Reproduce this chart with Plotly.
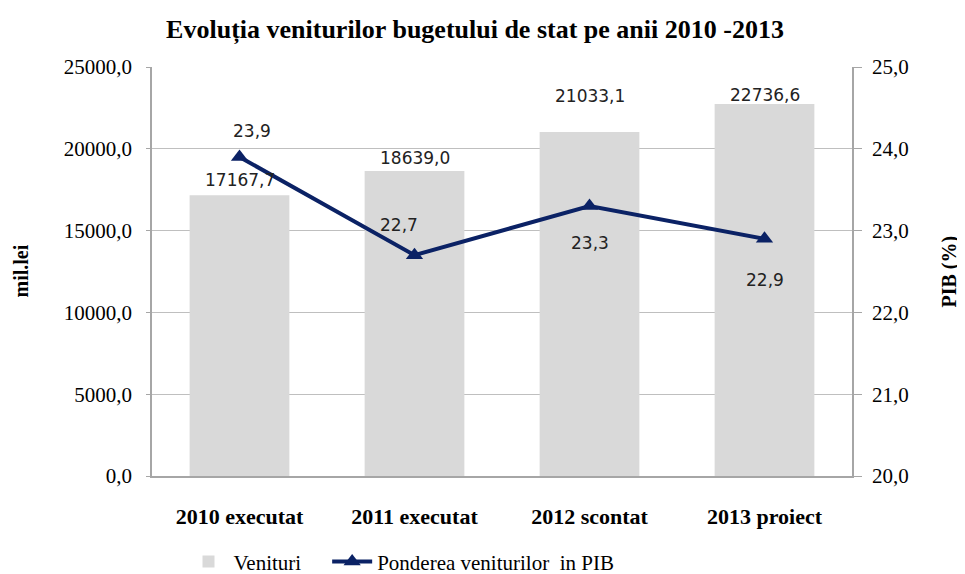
import plotly.graph_objects as go

categories = ["2010 executat", "2011 executat", "2012 scontat", "2013 proiect"]
venituri = [17167.7, 18639.0, 21033.1, 22736.6]
pondere = [23.9, 22.7, 23.3, 22.9]
left_ticks = [0, 5000, 10000, 15000, 20000, 25000]
right_ticks = [20, 21, 22, 23, 24, 25]

# label offsets (px) for styling
bar_label_shift = [15, 13, 36, 9]
line_label_shift = [26, 30, -37, -41]
line_label_xshift = [12, -16, 0, 0]

navy = "#0b2265"
serif = "Liberation Serif"
sans = "DejaVu Sans"

fig = go.Figure()
fig.add_trace(go.Bar(
    x=categories, y=venituri, name="Venituri" + "\u00a0" * 4,
    marker=dict(color="#d9d9d9", line=dict(width=0)),
    yaxis="y",
))
fig.add_trace(go.Scatter(
    x=categories, y=pondere, name="Ponderea veniturilor\u00a0 in PIB",
    mode="lines+markers",
    line=dict(color=navy, width=4),
    marker=dict(symbol="triangle-up", size=15, color=navy),
    yaxis="y2",
))

annotations = []
for i, (c, v) in enumerate(zip(categories, venituri)):
    annotations.append(dict(
        x=c, y=v, xref="x", yref="y", text=f"{v:.1f}".replace(".", ","),
        showarrow=False, yshift=bar_label_shift[i], yanchor="middle",
        font=dict(family=sans, size=17, color="#222"),
    ))
for i, (c, v) in enumerate(zip(categories, pondere)):
    annotations.append(dict(
        x=c, y=v, xref="x", yref="y2", text=f"{v:.1f}".replace(".", ","),
        showarrow=False, yshift=line_label_shift[i], xshift=line_label_xshift[i],
        yanchor="middle",
        font=dict(family=sans, size=17, color="#222"),
    ))
# axis titles
annotations.append(dict(
    x=0, y=0.5, xref="paper", yref="paper", text="<b>mil.lei</b>", textangle=-90,
    showarrow=False, xshift=-132, xanchor="center", yanchor="middle",
    font=dict(family=serif, size=20, color="#000"),
))
annotations.append(dict(
    x=1, y=0.5, xref="paper", yref="paper", text="<b>PIB (%)</b>", textangle=-90,
    showarrow=False, xshift=97, xanchor="center", yanchor="middle",
    font=dict(family=serif, size=20, color="#000"),
))

fig.update_layout(
    width=957, height=566,
    margin=dict(l=144, r=113, t=59, b=98, autoexpand=False),
    paper_bgcolor="white", plot_bgcolor="white",
    separators=", ",
    title=dict(text="<b>Evoluția veniturilor bugetului de stat pe anii 2010 -2013</b>",
               x=0.488, xref="container", xanchor="center", y=1, yref="container", yanchor="top",
               pad=dict(t=12),
               font=dict(family=serif, size=26, color="#000")),
    bargap=0.43,
    showlegend=True,
    legend=dict(orientation="h", x=0.045, xanchor="left", y=-0.21, yanchor="middle",
                font=dict(family=serif, size=21, color="#000"),
                itemwidth=40, tracegroupgap=0),
    xaxis=dict(
        type="category", range=[-0.5, 3.5],
        showline=True, linecolor="#a6a6a6", linewidth=2,
        ticks="", showgrid=False, automargin=False, ticklabelstandoff=20,
        tickfont=dict(family=serif, size=22, color="#000", weight="bold"),
    ),
    yaxis=dict(
        range=[0, 25000], tickvals=left_ticks, tickformat=".1f",
        showline=True, linecolor="#a6a6a6", linewidth=1.5,
        showgrid=True, gridcolor="#bfbfbf", gridwidth=1.2,
        ticks="outside", ticklen=4, tickcolor="#a6a6a6", automargin=False,
        ticklabelstandoff=10,
        tickfont=dict(family=serif, size=21, color="#000"),
        zeroline=False,
    ),
    yaxis2=dict(
        range=[20, 25], tickvals=right_ticks, tickformat=".1f",
        overlaying="y", side="right",
        showline=True, linecolor="#a6a6a6", linewidth=1.5,
        showgrid=False, automargin=False,
        ticks="outside", ticklen=8, tickcolor="#a6a6a6", ticklabelstandoff=6,
        tickfont=dict(family=serif, size=21, color="#000"),
        zeroline=False,
    ),
    annotations=annotations,
)

fig.write_html("out.html")
